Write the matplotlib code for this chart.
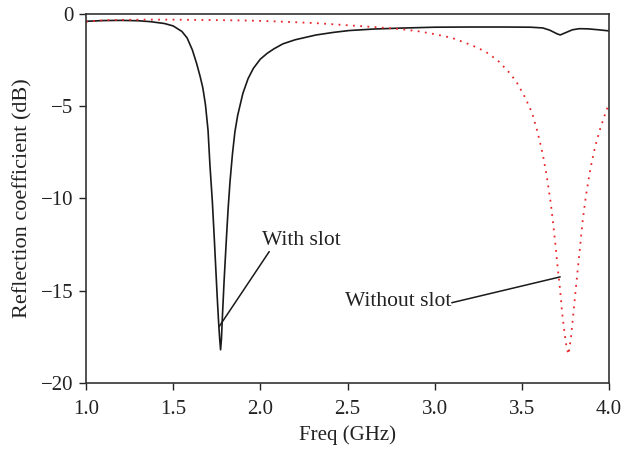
import matplotlib
matplotlib.use("Agg")
import matplotlib.pyplot as plt

plt.rcParams['font.family'] = ['Liberation Serif', 'DejaVu Serif']

# With slot (black solid)
freq_with = [1.00, 1.10, 1.20, 1.30, 1.37, 1.45, 1.50, 1.55, 1.58, 1.61, 1.635, 1.655,
             1.67, 1.685, 1.70, 1.711, 1.725, 1.735, 1.745, 1.753, 1.760, 1.766, 1.772,
             1.777, 1.782, 1.787, 1.792, 1.800, 1.807, 1.815, 1.826, 1.840, 1.854, 1.870,
             1.885, 1.90, 1.93, 1.96, 2.00, 2.04, 2.08, 2.13, 2.20, 2.32, 2.42, 2.51, 2.65,
             2.80, 3.00, 3.20, 3.40, 3.55, 3.62, 3.66, 3.70, 3.72, 3.75, 3.79, 3.83, 3.88,
             3.94, 4.00]
db_with = [-0.40, -0.36, -0.35, -0.37, -0.42, -0.52, -0.65, -0.95, -1.3, -1.95, -2.7, -3.4,
           -4.0, -4.9, -6.3, -8.2, -10.2, -12.0, -13.9, -15.4, -16.6, -17.5, -18.2,
           -17.6, -16.5, -15.5, -14.5, -13.1, -11.9, -10.6, -9.1, -7.6, -6.4, -5.5,
           -4.9, -4.3, -3.5, -2.95, -2.45, -2.13, -1.88, -1.62, -1.40, -1.14, -1.0, -0.9, -0.82,
           -0.77, -0.72, -0.71, -0.71, -0.72, -0.76, -0.88, -1.07, -1.14, -1.02, -0.86, -0.80,
           -0.81, -0.86, -0.92]

# Without slot (red dotted)
freq_without = [1.00, 1.10, 1.20, 1.37, 1.50, 1.70, 1.94, 2.10, 2.32, 2.51, 2.65, 2.80,
                2.90, 2.99, 3.10, 3.18, 3.25, 3.31, 3.37, 3.43, 3.47, 3.52, 3.56, 3.59,
                3.62, 3.643, 3.665, 3.68, 3.695, 3.705, 3.72, 3.73, 3.745, 3.757, 3.768,
                3.782, 3.795, 3.805, 3.82, 3.834, 3.85, 3.87, 3.895, 3.92, 3.95, 3.975, 4.00]
db_without = [-0.42, -0.35, -0.32, -0.31, -0.31, -0.33, -0.36, -0.41, -0.50, -0.62, -0.71, -0.82,
              -0.93, -1.08, -1.3, -1.58, -1.85, -2.15, -2.6, -3.2, -3.7, -4.55, -5.4, -6.4,
              -7.6, -8.8, -10.2, -11.4, -12.7, -13.7, -15.0, -16.1, -17.3, -18.1, -18.45,
              -17.5, -16.3, -15.3, -13.9, -12.6, -11.1, -9.7, -8.3, -7.2, -6.2, -5.5, -4.85]

xticks = [1.0, 1.5, 2.0, 2.5, 3.0, 3.5, 4.0]
yticks = [0, -5, -10, -15, -20]

fig = plt.figure(figsize=(6.24, 4.49), dpi=100)
ax = fig.add_axes([0.1378, 0.147, 0.976 - 0.1378, 0.969 - 0.147])

ax.plot(freq_with, db_with, color='#1a1a1a', lw=1.2)
ax.plot(freq_without, db_without, color='#e8262a', lw=1.3, linestyle=(0, (1, 3)))

ax.set_xlim(1.0, 4.0)
ax.set_ylim(-20, 0)
ax.set_xticks(xticks)
ax.set_xticklabels([f"{t:.1f}" for t in xticks])
ax.set_yticks(yticks)
ax.set_yticklabels(["0", "\u22125", "\u221210", "\u221215", "\u221220"])
ax.tick_params(direction='out', length=5, width=1, labelsize=15, colors='#222222')
ax.tick_params(axis='x', pad=7)
ax.tick_params(axis='y', pad=4)
for s in ax.spines.values():
    s.set_color('#333333')
    s.set_linewidth(1.2)

ax.set_xlabel("Freq (GHz)", fontsize=15, color='#222222', labelpad=5)
ax.set_ylabel("Reflection coefficient (dB)", fontsize=16, color='#222222', labelpad=6)

# annotations
ax.text(2.008, -12.3, "With slot", ha='left', va='center', fontsize=15.5, color='#222222')
ax.annotate('', xy=(1.764, -16.94), xytext=(2.051, -12.88),
            arrowprops=dict(arrowstyle='-', lw=1.1, color='#1a1a1a', shrinkA=0, shrinkB=0))
ax.text(3.095, -15.6, "Without slot", ha='right', va='center', fontsize=15.5, color='#222222')
ax.annotate('', xy=(3.72, -14.25), xytext=(3.098, -15.65),
            arrowprops=dict(arrowstyle='-', lw=1.1, color='#1a1a1a', shrinkA=0, shrinkB=0))

fig.savefig("out.png", dpi=100)
